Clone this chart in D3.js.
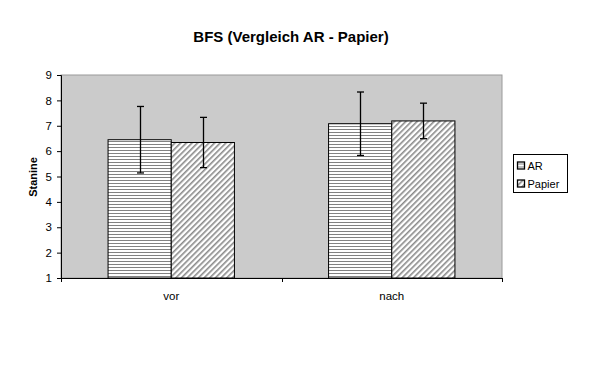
<!DOCTYPE html>
<html><head><meta charset="utf-8">
<script src="https://cdn.jsdelivr.net/npm/d3@7"></script>
<style>body{margin:0;background:#fff}svg{display:block;font-family:Arial,"Liberation Sans",sans-serif}</style>
</head><body>
<script>
const categories = ["vor", "nach"];
const seriesNames = ["AR", "Papier"];
const means = { AR: [6.45, 7.08], Papier: [6.34, 7.19] };
const sds = { AR: [1.31, 1.25], Papier: [0.99, 0.70] };
const yTicks = [1, 2, 3, 4, 5, 6, 7, 8, 9];
const title = "BFS (Vergleich AR - Papier)";
const yLabel = "Stanine";

const W = 600, H = 365;
const m = { left: 61, right: 98, top: 75, bottom: 87 };
const svg = d3.select("body").append("svg").attr("width", W).attr("height", H);

const defs = svg.append("defs");
const p1 = defs.append("pattern").attr("id", "hstripe").attr("patternUnits", "userSpaceOnUse").attr("width", 4).attr("height", 3);
p1.append("rect").attr("width", 4).attr("height", 3).attr("fill", "#fff");
p1.append("rect").attr("y", 0).attr("width", 4).attr("height", 1).attr("fill", "#828282");
const p2 = defs.append("pattern").attr("id", "dstripe").attr("patternUnits", "userSpaceOnUse").attr("width", 4).attr("height", 4).attr("patternTransform", "rotate(45)");
p2.append("rect").attr("width", 4).attr("height", 4).attr("fill", "#fff");
p2.append("rect").attr("x", 0).attr("width", 1.6).attr("height", 4).attr("fill", "#8a8a8a");
const fills = { AR: "url(#hstripe)", Papier: "url(#dstripe)" };

const x = d3.scaleBand().domain(categories).range([m.left, W - m.right]);
const xs = d3.scaleBand().domain(seriesNames).range([0, x.bandwidth()]).paddingOuter(0.745).paddingInner(0);
const y = d3.scaleLinear().domain([1, 9]).range([H - m.bottom, m.top]);

svg.append("rect").attr("x", m.left).attr("y", m.top).attr("width", W - m.left - m.right).attr("height", H - m.top - m.bottom)
  .attr("fill", "#cbcbcb").attr("stroke", "#9a9a9a").attr("stroke-width", 1);

categories.forEach((c, i) => {
  seriesNames.forEach(s => {
    const bx = x(c) + xs(s);
    svg.append("rect").attr("x", bx).attr("y", y(means[s][i])).attr("width", xs.bandwidth())
      .attr("height", y(1) - y(means[s][i])).attr("fill", fills[s]).attr("stroke", "#000").attr("stroke-width", 1);
  });
});
categories.forEach((c, i) => {
  seriesNames.forEach(s => {
    const cx = Math.round(x(c) + xs(s) + xs.bandwidth() / 2) + 0.5;
    const hi = y(means[s][i] + sds[s][i]), lo = y(means[s][i] - sds[s][i]);
    const g = svg.append("g").attr("stroke", "#000").attr("stroke-width", 1.3);
    g.append("line").attr("x1", cx).attr("x2", cx).attr("y1", hi).attr("y2", lo);
    g.append("line").attr("x1", cx - 3.5).attr("x2", cx + 3.5).attr("y1", hi).attr("y2", hi);
    g.append("line").attr("x1", cx - 3.5).attr("x2", cx + 3.5).attr("y1", lo).attr("y2", lo);
  });
});

const ya = svg.append("g").attr("transform", `translate(${m.left},0)`)
  .call(d3.axisLeft(y).tickValues(yTicks).tickFormat(d3.format("d")).tickSize(4).tickPadding(5));
ya.select(".domain").attr("stroke", "#000");
ya.selectAll("text").attr("font-size", 11.5).attr("fill", "#000").attr("font-family", "Arial, 'Liberation Sans', sans-serif");

const xa = svg.append("g").attr("transform", `translate(0,${H - m.bottom})`)
  .call(d3.axisBottom(x).tickSize(0).tickPadding(14));
xa.select(".domain").attr("stroke", "#000");
xa.selectAll("text").attr("font-size", 11.5).attr("fill", "#000").attr("font-family", "Arial, 'Liberation Sans', sans-serif");
const bTicks = [m.left, x("nach"), W - m.right];
svg.append("g").selectAll("line").data(bTicks).join("line")
  .attr("x1", d => Math.round(d) + 0.5).attr("x2", d => Math.round(d) + 0.5)
  .attr("y1", H - m.bottom).attr("y2", H - m.bottom + 4).attr("stroke", "#000");

svg.append("text").attr("x", 291).attr("y", 42).attr("text-anchor", "middle")
  .attr("font-size", 15).attr("font-weight", "bold").text(title);
svg.append("text").attr("transform", "translate(37,177) rotate(-90)").attr("text-anchor", "middle")
  .attr("font-size", 11).attr("font-weight", "bold").text(yLabel);

const lg = svg.append("g").attr("transform", "translate(513.5,154.5)");
lg.append("rect").attr("width", 54).attr("height", 38).attr("fill", "#fff").attr("stroke", "#000").attr("stroke-width", 1);
seriesNames.forEach((s, i) => {
  const yy = 11 + i * 18;
  lg.append("rect").attr("x", 4).attr("y", yy - 3.5).attr("width", 7).attr("height", 7)
    .attr("fill", fills[s]).attr("stroke", "#000").attr("stroke-width", 1.3);
  lg.append("text").attr("x", 14).attr("y", yy + 4).attr("font-size", 11).text(s);
});
</script>
</body></html>
